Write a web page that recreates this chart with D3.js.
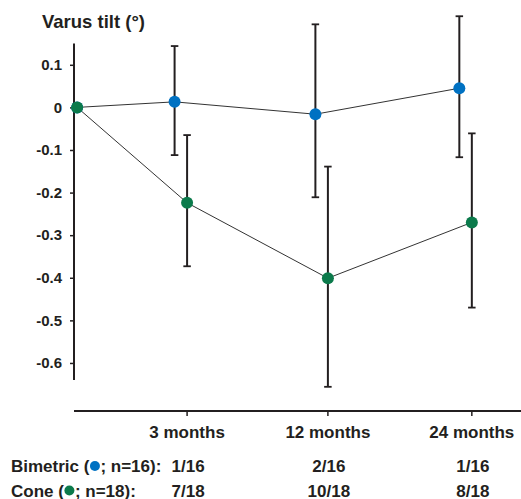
<!DOCTYPE html>
<html>
<head>
<meta charset="utf-8">
<script src="https://cdn.jsdelivr.net/npm/d3@7"></script>
<style>
  body { margin: 0; background: #fff; }
  text { font-family: "Liberation Sans", Arial, sans-serif; fill: #231f20; }
</style>
</head>
<body>
<div id="chart"></div>
<script>
// data
var timepoints = [0, 1, 2, 3];
var timeLabels = ["", "3 months", "12 months", "24 months"];

var bimetricMean = [0, 0.013, -0.016, 0.045];
var bimetricLow  = [null, -0.112, -0.211, -0.117];
var bimetricHigh = [null, 0.144, 0.195, 0.214];

var coneMean = [0, -0.224, -0.401, -0.270];
var coneLow  = [null, -0.373, -0.656, -0.470];
var coneHigh = [null, -0.065, -0.139, -0.061];

var bimetricCounts = ["1/16", "2/16", "1/16"];
var coneCounts = ["7/18", "10/18", "8/18"];

var yTicks = [0.1, 0, -0.1, -0.2, -0.3, -0.4, -0.5, -0.6];

var blue = "#0071c2";
var green = "#0b7a4b";

var svgWidth = 521, svgHeight = 499;
var axisLeft = 74, axisRight = 521, axisTop = 43.5, axisBottom = 380, xAxisY = 411;
var plotW = axisRight - axisLeft;

var svg = d3.select("#chart")
  .append("svg")
  .attr("width", svgWidth)
  .attr("height", svgHeight);

// x positions are not evenly spaced in the original, so piecewise scale
var xScale = d3.scaleLinear()
  .domain(timepoints)
  .range([0.007, 0.253, 0.568, 0.89].map(f => axisLeft + f * plotW));

var yScale = d3.scaleLinear()
  .domain([-0.64, 0.15])
  .range([axisBottom, axisTop]);

var dodge = -12.5; // bimetric drawn slightly left of the cone series

function series(mean, low, high, color, off) {
  return timepoints.map((t, i) => ({
    x: xScale(t) + (i === 0 ? 0 : off),
    m: mean[i], lo: low[i], hi: high[i], color: color
  }));
}
var bim = series(bimetricMean, bimetricLow, bimetricHigh, blue, dodge);
var cone = series(coneMean, coneLow, coneHigh, green, 0);

// y axis
var yAxis = d3.axisLeft(yScale)
  .tickValues(yTicks)
  .tickSize(4)
  .tickPadding(8)
  .tickFormat(d => d === 0 ? "0" : d.toFixed(1));

var gy = svg.append("g")
  .attr("transform", `translate(${axisLeft},0)`)
  .call(yAxis);
gy.select(".domain").remove();
gy.selectAll(".tick line").attr("stroke", "#231f20").attr("stroke-width", 1.5);
gy.selectAll(".tick text")
  .style("font-size", "15px")
  .style("font-weight", "bold")
  .attr("fill", "#231f20");
gy.append("line")
  .attr("x1", 0).attr("x2", 0)
  .attr("y1", axisTop).attr("y2", axisBottom)
  .attr("stroke", "#231f20").attr("stroke-width", 2);

// x axis
svg.append("line")
  .attr("x1", axisLeft).attr("x2", axisRight)
  .attr("y1", xAxisY).attr("y2", xAxisY)
  .attr("stroke", "#231f20").attr("stroke-width", 2);

svg.append("g").selectAll("line")
  .data(timepoints.slice(1))
  .enter()
  .append("line")
  .attr("x1", d => xScale(d)).attr("x2", d => xScale(d))
  .attr("y1", xAxisY).attr("y2", xAxisY + 5)
  .attr("stroke", "#231f20").attr("stroke-width", 1.5);

svg.append("g").selectAll("text")
  .data(timepoints.slice(1))
  .enter()
  .append("text")
  .attr("x", d => xScale(d))
  .attr("y", 438)
  .attr("text-anchor", "middle")
  .style("font-size", "17px")
  .style("font-weight", "bold")
  .text(d => timeLabels[d]);

// title
svg.append("text")
  .attr("x", 42)
  .attr("y", 28)
  .style("font-size", "18.5px")
  .style("font-weight", "bold")
  .text("Varus tilt (°)");

// connecting lines
var line = d3.line().x(d => d.x).y(d => yScale(d.m));
[bim, cone].forEach(s => {
  svg.append("path")
    .datum(s)
    .attr("d", line)
    .attr("fill", "none")
    .attr("stroke", "#333")
    .attr("stroke-width", 1);
});

// error bars
var capW = 7.5;
[bim, cone].forEach(s => {
  var g = svg.append("g").selectAll("g")
    .data(s.filter(d => d.lo !== null))
    .enter()
    .append("g")
    .attr("stroke", "#231f20");
  g.append("line")
    .attr("x1", d => d.x).attr("x2", d => d.x)
    .attr("y1", d => yScale(d.lo)).attr("y2", d => yScale(d.hi))
    .attr("stroke-width", 2);
  g.append("line")
    .attr("x1", d => d.x - capW / 2).attr("x2", d => d.x + capW / 2)
    .attr("y1", d => yScale(d.hi)).attr("y2", d => yScale(d.hi))
    .attr("stroke-width", 1.8);
  g.append("line")
    .attr("x1", d => d.x - capW / 2).attr("x2", d => d.x + capW / 2)
    .attr("y1", d => yScale(d.lo)).attr("y2", d => yScale(d.lo))
    .attr("stroke-width", 1.8);
});

// points
[bim, cone].forEach(s => {
  svg.append("g").selectAll("circle")
    .data(s)
    .enter()
    .append("circle")
    .attr("cx", d => d.x)
    .attr("cy", d => yScale(d.m))
    .attr("r", 6)
    .attr("fill", d => d.color);
});

// counts table
var rows = [
  { name: "Bimetric (", n: "; n=16):", color: blue, counts: bimetricCounts, y: 472 },
  { name: "Cone (", n: "; n=18):", color: green, counts: coneCounts, y: 496.5 }
];
rows.forEach(r => {
  var t1 = svg.append("text")
    .attr("x", 11)
    .attr("y", r.y)
    .style("font-size", "17px")
    .style("font-weight", "bold")
    .text(r.name);
  var w = t1.node().getComputedTextLength();
  svg.append("circle")
    .attr("cx", 11 + w + 5.5)
    .attr("cy", r.y - 6)
    .attr("r", 5)
    .attr("fill", r.color);
  svg.append("text")
    .attr("x", 11 + w + 11)
    .attr("y", r.y)
    .style("font-size", "17px")
    .style("font-weight", "bold")
    .text(r.n);

  svg.append("g").selectAll("text")
    .data(r.counts)
    .enter()
    .append("text")
    .attr("x", (d, i) => xScale(timepoints[i + 1]) + 1)
    .attr("y", r.y)
    .attr("text-anchor", "middle")
    .style("font-size", "17px")
    .style("font-weight", "bold")
    .text(d => d);
});
</script>
</body>
</html>
